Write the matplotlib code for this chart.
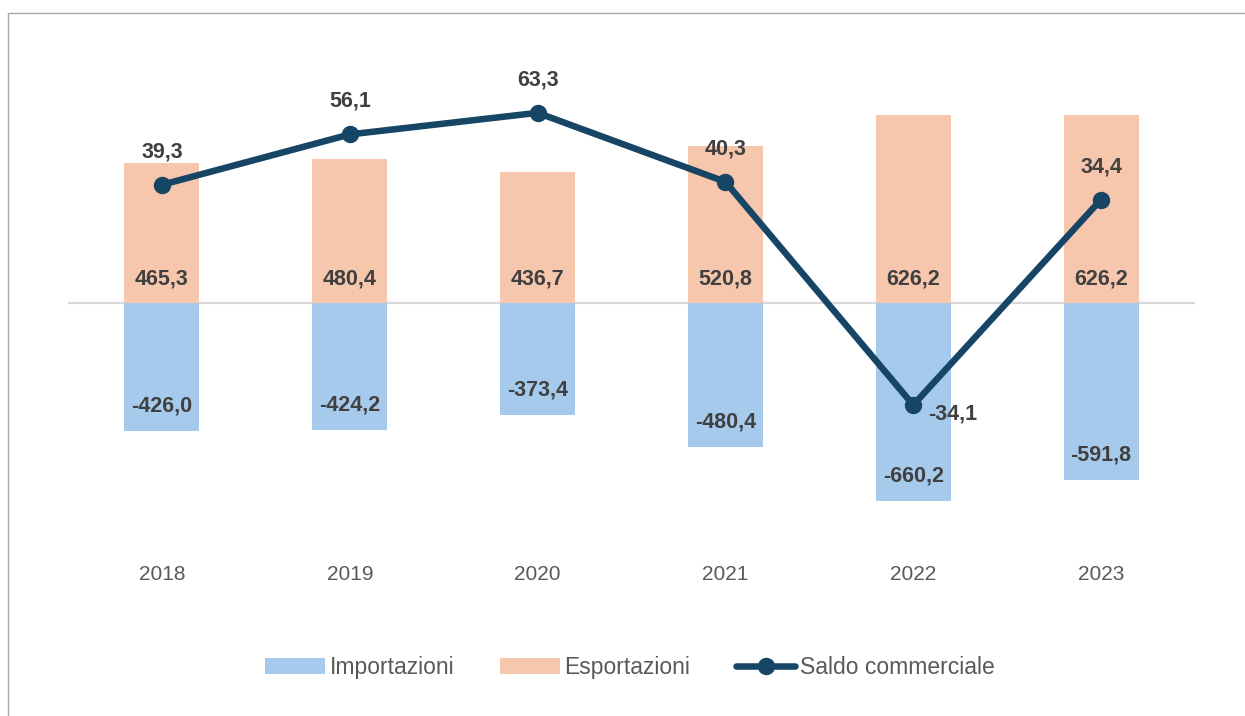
# Italian trade balance chart: imports/exports bars with trade balance line
import matplotlib.pyplot as plt
from matplotlib.patches import Rectangle

# data
years = ['2018', '2019', '2020', '2021', '2022', '2023']
importazioni = [-426.0, -424.2, -373.4, -480.4, -660.2, -591.8]
esportazioni = [465.3, 480.4, 436.7, 520.8, 626.2, 626.2]
saldo = [39.3, 56.1, 63.3, 40.3, -34.1, 34.4]

col_imp = '#A6CAEC'
col_exp = '#F6C6AD'
col_line = '#164565'
col_lab = '#404040'
col_tick = '#595959'

plt.rcParams['font.family'] = ['Liberation Sans', 'DejaVu Sans']


def fmt(v):
    return f'{v:.1f}'.replace('.', ',')


fig = plt.figure(figsize=(12.45, 7.16), dpi=100)

# outer chart frame
fig.patches.append(Rectangle((8 / 1245, -0.05), 1.1, 1 - 13 / 716 + 0.05,
                             transform=fig.transFigure, fill=False,
                             edgecolor='#A6A6A6', linewidth=1.0))

ax = fig.add_axes([68 / 1245, 0.2420, 1127 / 1245, 0.6704])
x = list(range(len(years)))

ax.bar(x, importazioni, width=0.4, color=col_imp, label='Importazioni', zorder=2)
ax.bar(x, esportazioni, width=0.4, color=col_exp, label='Esportazioni', zorder=2)
ax.axhline(0, color='#D9D9D9', linewidth=1.6, zorder=1)

ax.set_xlim(-0.5, 5.5)
ax.set_ylim(-800, 800)
ax.set_xticks(x)
ax.set_xticklabels(years)
ax.tick_params(axis='x', length=0, pad=16, labelsize=15, labelcolor=col_tick)
ax.set_yticks([])
for s in ax.spines.values():
    s.set_visible(False)

# bar value labels
for i, v in enumerate(esportazioni):
    ax.annotate(fmt(v), (i, 0), xytext=(0, 24), textcoords='offset pixels',
                ha='center', va='center', fontsize=15.5, fontweight='bold', color=col_lab)
for i, v in enumerate(importazioni):
    ax.annotate(fmt(v), (i, v), xytext=(0, 25), textcoords='offset pixels',
                ha='center', va='center', fontsize=15.5, fontweight='bold', color=col_lab)

# trade balance on secondary axis
ax2 = ax.twinx()
ax2.plot(x, saldo, color=col_line, linewidth=4.7, marker='o', markersize=11.5,
         label='Saldo commerciale', zorder=3, solid_capstyle='round')
ax2.set_ylim(-80, 80)
ax2.set_yticks([])
for s in ax2.spines.values():
    s.set_visible(False)

for i, v in enumerate(saldo):
    if v >= 0:
        ax2.annotate(fmt(v), (i, v), xytext=(0, 33), textcoords='offset pixels',
                     ha='center', va='center', fontsize=15.5, fontweight='bold', color=col_lab)
    else:
        ax2.annotate(fmt(v), (i, v), xytext=(15, -9), textcoords='offset pixels',
                     ha='left', va='center', fontsize=15.5, fontweight='bold', color=col_lab)

h1, l1 = ax.get_legend_handles_labels()
h2, l2 = ax2.get_legend_handles_labels()
leg = fig.legend(h1 + h2, l1 + l2, loc='center', bbox_to_anchor=(630 / 1245, 0.068),
                 ncol=3, frameon=False, fontsize=16.5, handlelength=2.6,
                 handletextpad=0.2, columnspacing=2.0)
for t in leg.get_texts():
    t.set_color(col_tick)

fig.savefig('out.png', dpi=100)
